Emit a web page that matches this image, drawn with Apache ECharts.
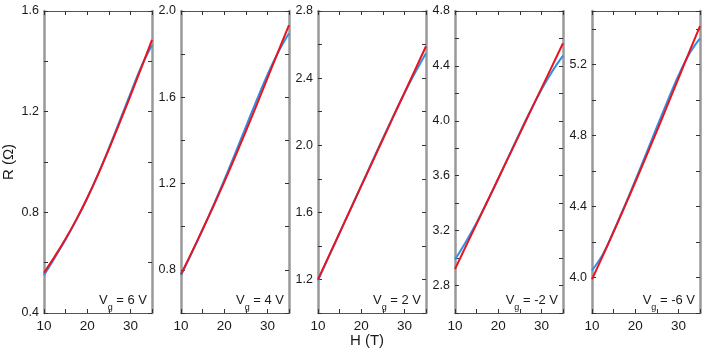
<!DOCTYPE html>
<html>
<head>
<meta charset="utf-8">
<script src="https://cdn.jsdelivr.net/npm/echarts@6/dist/echarts.min.js"></script>
<style>
  html, body { margin: 0; padding: 0; background: #fff; }
  #main { width: 706px; height: 357px; }
</style>
</head>
<body>
<div id="main"></div>
<script>
// field H (T), shared by every panel
var hValues = [10, 12.5, 15, 17.5, 20, 22.5, 25, 27.5, 30, 32.5, 35];

// panel labels (gate voltage)
var gateLabels = ['6', '4', '2', '-2', '-6'];

var blue6 = [0.55, 0.62, 0.692, 0.77, 0.856, 0.951, 1.054, 1.162, 1.272, 1.378, 1.465];
var red6 = [0.56, 0.625, 0.695, 0.772, 0.857, 0.95, 1.05, 1.155, 1.263, 1.373, 1.485];

var blue4 = [0.775, 0.879, 0.987, 1.099, 1.216, 1.338, 1.462, 1.586, 1.704, 1.809, 1.897];
var red4 = [0.78, 0.882, 0.987, 1.095, 1.207, 1.323, 1.442, 1.564, 1.688, 1.812, 1.935];

var blue2 = [1.195, 1.336, 1.477, 1.618, 1.759, 1.90, 2.04, 2.178, 2.31, 2.433, 2.548];
var red2 = [1.20, 1.339, 1.478, 1.617, 1.756, 1.895, 2.034, 2.173, 2.312, 2.451, 2.59];

var blueM2 = [2.99, 3.118, 3.258, 3.413, 3.578, 3.746, 3.913, 4.075, 4.227, 4.36, 4.475];
var redM2 = [2.92, 3.085, 3.249, 3.414, 3.578, 3.743, 3.907, 4.072, 4.236, 4.40, 4.565];

var blueM6 = [4.04, 4.13, 4.26, 4.40, 4.545, 4.695, 4.846, 4.994, 5.136, 5.258, 5.346];
var redM6 = [3.99, 4.122, 4.257, 4.395, 4.536, 4.679, 4.824, 4.971, 5.12, 5.269, 5.415];

// y ranges of each panel
var yMins = [0.4, 0.6, 1.0, 2.6, 3.8];
var yMaxs = [1.6, 2.0, 2.8, 4.8, 5.5];

var blueSets = [blue6, blue4, blue2, blueM2, blueM6];
var redSets = [red6, red4, red2, redM2, redM6];

var FONT = 'Liberation Sans, Arial, sans-serif';
var panelLeft = [44, 181, 318, 455, 592];
var panelW = 108;
var panelTop = 11;
var panelH = 302;

function pairs(xs, ys) {
  var out = [];
  for (var i = 0; i < xs.length; i++) {
    out.push([xs[i], ys[i]]);
  }
  return out;
}

var grids = [], xAxes = [], yAxes = [], series = [], graphics = [];

for (var p = 0; p < 5; p++) {
  grids.push({ left: panelLeft[p], top: panelTop, width: panelW, height: panelH });

  // bottom x axis (with labels)
  xAxes.push({
    gridIndex: p, type: 'value', min: 10, max: 35, interval: 5, position: 'bottom',
    axisLine: { show: true, lineStyle: { color: '#555', width: 1 } },
    axisTick: { show: true, inside: true, length: 4, lineStyle: { color: '#333' } },
    axisLabel: {
      color: '#1a1a1a', fontSize: 13.5, fontFamily: FONT, margin: 6,
      formatter: function(v) { return v % 10 === 0 ? String(v) : ''; }
    },
    splitLine: { show: false }
  });
  // top x axis (ticks only)
  xAxes.push({
    gridIndex: p, type: 'value', min: 10, max: 35, interval: 5, position: 'top',
    axisLine: { show: true, lineStyle: { color: '#555', width: 1 } },
    axisTick: { show: true, inside: true, length: 4, lineStyle: { color: '#333' } },
    axisLabel: { show: false },
    splitLine: { show: false }
  });
  // left y axis
  yAxes.push({
    gridIndex: p, type: 'value', min: yMins[p], max: yMaxs[p], interval: 0.2, position: 'left',
    axisLine: { show: true, lineStyle: { color: '#999', width: 2.5 } },
    axisTick: { show: true, inside: true, length: 4, lineStyle: { color: '#333' } },
    axisLabel: {
      color: '#1a1a1a', fontSize: 12.5, fontFamily: FONT, margin: 5,
      formatter: function(v) {
        var k = Math.round(v * 10);
        return k % 4 === 0 ? v.toFixed(1) : '';
      }
    },
    splitLine: { show: false }
  });
  // right y axis (ticks only)
  yAxes.push({
    gridIndex: p, type: 'value', min: yMins[p], max: yMaxs[p], interval: 0.2, position: 'right',
    axisLine: { show: true, lineStyle: { color: '#999', width: 2.5 } },
    axisTick: { show: true, inside: true, length: 4, lineStyle: { color: '#333' } },
    axisLabel: { show: false },
    splitLine: { show: false }
  });

  series.push({
    type: 'line', xAxisIndex: p * 2, yAxisIndex: p * 2, smooth: 0.4, symbol: 'none',
    lineStyle: { color: '#2f8fe6', width: 2 }, data: pairs(hValues, blueSets[p]), z: 2
  });
  series.push({
    type: 'line', xAxisIndex: p * 2, yAxisIndex: p * 2, smooth: 0.4, symbol: 'none',
    lineStyle: { color: '#e8141e', width: 2 }, data: pairs(hValues, redSets[p]), z: 3
  });

  // V_g = ... label at lower right of each panel
  graphics.push({
    type: 'text',
    right: 706 - (panelLeft[p] + panelW) + 5,
    top: 294,
    style: {
      text: '{a|V}{s|g}{a| = ' + gateLabels[p] + ' V}',
      fill: '#1a1a1a',
      rich: {
        a: { fontSize: 13, fontFamily: FONT, lineHeight: 18, verticalAlign: 'top', fill: '#1a1a1a' },
        s: { fontSize: 9, fontFamily: FONT, lineHeight: 18, verticalAlign: 'bottom', fill: '#1a1a1a' }
      }
    }
  });
}

// axis titles
graphics.push({
  type: 'text', x: 9, y: 162, rotation: Math.PI / 2,
  style: { text: 'R (\u03A9)', fontSize: 15, fontFamily: FONT, fill: '#1a1a1a', align: 'center', verticalAlign: 'middle' }
});
graphics.push({
  type: 'text', x: 367, y: 341,
  style: { text: 'H (T)', fontSize: 15, fontFamily: FONT, fill: '#1a1a1a', align: 'center', verticalAlign: 'middle' }
});

var myChart = echarts.init(document.getElementById('main'), null, { renderer: 'canvas' });
myChart.setOption({
  animation: false,
  backgroundColor: '#fff',
  grid: grids,
  xAxis: xAxes,
  yAxis: yAxes,
  series: series,
  graphic: graphics
});
</script>
</body>
</html>
